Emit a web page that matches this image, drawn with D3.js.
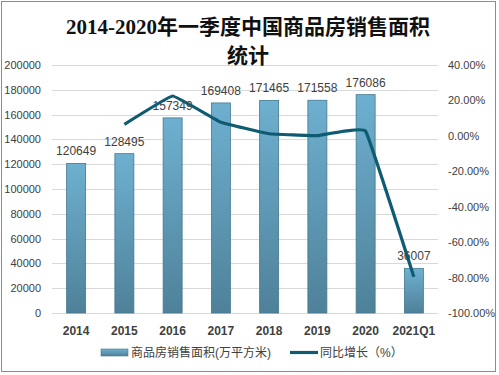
<!DOCTYPE html>
<html>
<head>
<meta charset="utf-8">
<script src="https://cdn.jsdelivr.net/npm/d3@7"></script>
<style>
  body { margin: 0; background: #fff; }
  svg { display: block; }
</style>
</head>
<body>
<svg id="chart" width="499" height="375"></svg>
<script>
// data
const years = ["2014", "2015", "2016", "2017", "2018", "2019", "2020", "2021Q1"];
const area = [120649, 128495, 157349, 169408, 171465, 171558, 176086, 36007];
const growth = [null, 6.5, 22.5, 7.7, 1.2, 0.1, 2.6, -79.6];
const leftTicks = [0, 20000, 40000, 60000, 80000, 100000, 120000, 140000, 160000, 180000, 200000];
const rightTicks = [-100, -80, -60, -40, -20, 0, 20, 40];

const svg = d3.select("#chart");
const font = "'Liberation Sans', 'Noto Sans CJK SC', sans-serif";

// outer frame
svg.append("rect")
    .attr("x", 1.5).attr("y", 1.5)
    .attr("width", 494).attr("height", 370)
    .attr("fill", "#fff")
    .attr("stroke", "#8c8c8c");

const x = d3.scaleBand().domain(years).range([52, 438]);
const y = d3.scaleLinear().domain([0, 200000]).range([313, 65]);
const y2 = d3.scaleLinear().domain([-100, 40]).range([313, 65]);

// gridlines
svg.append("g")
    .selectAll("line")
    .data(leftTicks)
    .join("line")
    .attr("x1", 52).attr("x2", 438)
    .attr("y1", d => Math.round(y(d)) + 0.5)
    .attr("y2", d => Math.round(y(d)) + 0.5)
    .attr("stroke", "#d9d9d9");

// left axis
const gl = svg.append("g")
    .attr("transform", "translate(44,0)")
    .call(d3.axisLeft(y).tickValues(leftTicks).tickSize(0).tickPadding(3).tickFormat(d3.format("d")));
gl.select(".domain").remove();
gl.selectAll("text").attr("font-family", font).attr("font-size", 11).attr("fill", "#404040");

// right axis
const gr = svg.append("g")
    .attr("transform", "translate(445,0)")
    .call(d3.axisRight(y2).tickValues(rightTicks).tickSize(0).tickPadding(3)
        .tickFormat(d => d.toFixed(2) + "%"));
gr.select(".domain").remove();
gr.selectAll("text").attr("font-family", font).attr("font-size", 11).attr("fill", "#404040");

// bar gradient
const defs = svg.append("defs");
const grad = defs.append("linearGradient")
    .attr("id", "barGrad").attr("x1", 0).attr("y1", 0).attr("x2", 0).attr("y2", 1);
grad.append("stop").attr("offset", "0%").attr("stop-color", "#6eb0d0");
grad.append("stop").attr("offset", "100%").attr("stop-color", "#4f8199");

const bw = 19;
svg.append("g")
    .selectAll("rect")
    .data(area)
    .join("rect")
    .attr("x", (d, i) => x(years[i]) + x.bandwidth() / 2 - bw / 2)
    .attr("y", d => y(d))
    .attr("width", bw)
    .attr("height", d => y(0) - y(d))
    .attr("fill", "url(#barGrad)")
    .attr("stroke", "#44788f")
    .attr("stroke-width", 0.8);

// bar labels
svg.append("g")
    .selectAll("text")
    .data(area)
    .join("text")
    .attr("x", (d, i) => x(years[i]) + x.bandwidth() / 2)
    .attr("y", d => y(d) - 8)
    .attr("text-anchor", "middle")
    .attr("font-family", font)
    .attr("font-size", 12)
    .attr("fill", "#404040")
    .text(d => d);

// growth line
const line = d3.line()
    .defined(d => d != null)
    .x((d, i) => x(years[i]) + x.bandwidth() / 2)
    .y(d => y2(d))
    .curve(d3.curveCardinal.tension(0.8));
svg.append("path")
    .datum(growth)
    .attr("d", line)
    .attr("fill", "none")
    .attr("stroke", "#0e5b72")
    .attr("stroke-width", 3.2)
    .attr("stroke-linejoin", "round");

// x labels
svg.append("g")
    .selectAll("text")
    .data(years)
    .join("text")
    .attr("x", d => x(d) + x.bandwidth() / 2)
    .attr("y", 335)
    .attr("text-anchor", "middle")
    .attr("font-family", font)
    .attr("font-size", 12)
    .attr("font-weight", "bold")
    .attr("fill", "#404040")
    .text(d => d);

// legend
svg.append("rect")
    .attr("x", 101).attr("y", 349).attr("width", 27).attr("height", 7)
    .attr("fill", "url(#barGrad)").attr("stroke", "#44788f").attr("stroke-width", 0.6);
svg.append("text")
    .attr("x", 131).attr("y", 357)
    .attr("font-family", font).attr("font-size", 12).attr("fill", "#404040")
    .text("商品房销售面积(万平方米)");
svg.append("line")
    .attr("x1", 290).attr("x2", 318).attr("y1", 352.5).attr("y2", 352.5)
    .attr("stroke", "#0e5b72").attr("stroke-width", 3.2);
svg.append("text")
    .attr("x", 320).attr("y", 357)
    .attr("font-family", font).attr("font-size", 12).attr("fill", "#404040")
    .text("同比增长（%）");

// title
const title = svg.append("text")
    .attr("text-anchor", "middle")
    .attr("font-family", "'Liberation Serif', 'Noto Sans CJK SC', serif")
    .attr("font-size", 21)
    .attr("font-weight", "bold")
    .attr("fill", "#111");
title.append("tspan").attr("x", 248).attr("y", 34).text("2014-2020年一季度中国商品房销售面积");
title.append("tspan").attr("x", 248).attr("y", 63).text("统计");
</script>
</body>
</html>
